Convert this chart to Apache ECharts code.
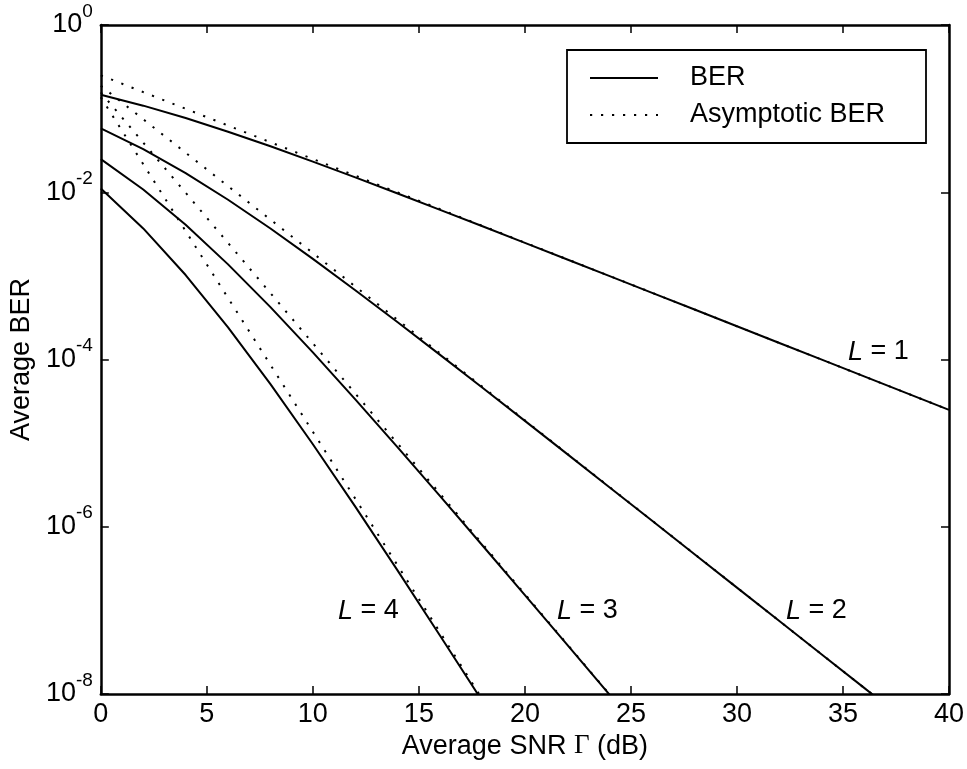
<!DOCTYPE html>
<html>
<head>
<meta charset="utf-8">
<script src="https://cdn.jsdelivr.net/npm/echarts@6/dist/echarts.min.js"></script>
<style>
html,body{margin:0;padding:0;background:#fff;}
#c{width:967px;height:769px;}
</style>
</head>
<body>
<div id="c"></div>
<script>
// SNR grid (dB)
const snrDb = [0,2,4,6,8,10,12,14,16,18,20,22,24,26,28,30,32,34,36,38,40];

// Exact average BER, L = 1..4
const berL1 = [0.1464,0.1085,0.07714,0.05300,0.03546,0.02327,0.01506,0.009665,0.006164,0.003916,0.002481,0.001570,9.923e-4,6.268e-4,3.958e-4,2.498e-4,1.577e-4,9.950e-5,6.279e-5,3.962e-5,2.500e-5];
const berL2 = [0.05806,0.03275,0.01693,0.008129,0.003683,0.001599,6.740e-4,2.784e-4,1.135e-4,4.588e-5,1.844e-5,7.386e-6,2.952e-6,1.178e-6,4.697e-7,1.872e-7,7.457e-8,2.970e-8,1.183e-8,4.708e-9,1.875e-9];
const berL3 = [0.02491,0.01078,0.004075,0.001373,4.225e-4,1.216e-4,3.342e-5,8.898e-6,2.320e-6,5.969e-7,1.522e-7,3.860e-8,9.756e-9,2.460e-9];
const berL4 = [0.01110,0.003696,0.001024,2.426e-4,5.076e-5,9.698e-6,1.738e-6,2.984e-7,4.977e-8,8.151e-9,1.320e-9];

// Asymptotic BER, L = 1..4
const asyL1 = [0.25,0.1577,0.09953,0.06280,0.03962,0.025,0.01577,0.009953,0.006280,0.003962,0.0025,0.001577,9.953e-4,6.280e-4,3.962e-4,2.5e-4,1.577e-4,9.953e-5,6.280e-5,3.962e-5,2.5e-5];
const asyL2 = [0.1875,0.07464,0.02972,0.01183,0.004710,0.001875,7.464e-4,2.972e-4,1.183e-4,4.710e-5,1.875e-5,7.464e-6,2.972e-6,1.183e-6,4.710e-7,1.875e-7,7.464e-8,2.972e-8,1.183e-8,4.710e-9,1.875e-9];
const asyL3 = [0.1563,0.03925,0.009859,0.002476,6.220e-4,1.563e-4,3.925e-5,9.859e-6,2.476e-6,6.220e-7,1.563e-7,3.925e-8,9.859e-9,2.476e-9];
const asyL4 = [0.1367,0.02167,0.003434,5.443e-4,8.626e-5,1.367e-5,2.167e-6,3.434e-7,5.443e-8,8.626e-9,1.367e-9];

// Tick values / labels
const xTicks = [0,5,10,15,20,25,30,35,40];
const yMin = 1e-8, yMax = 1;
const legendNames = ['BER','Asymptotic BER'];
const curveLabels = ['1','2','3','4'];

const FONT = 'Liberation Sans, Arial, Helvetica, sans-serif';
const pairs = arr => arr.map((v,i) => [snrDb[i], v]);

function solid(arr){
  return {name:'BER', type:'line', data:pairs(arr), symbol:'none', showSymbol:false, clip:true,
    lineStyle:{color:'#000', width:2}, itemStyle:{color:'#000'}, z:3};
}
function dotted(arr){
  return {name:'Asymptotic BER', type:'line', data:pairs(arr), symbol:'none', showSymbol:false, clip:true,
    lineStyle:{color:'#000', width:2, type:[2.2,8.8], cap:'butt'}, itemStyle:{color:'#000'}, z:2};
}

const axisLineStyle = {show:true, onZero:false, lineStyle:{color:'#000', width:2.5}};
const tickStyle = {show:true, inside:true, length:8, lineStyle:{color:'#000', width:1.5}};

const chart = echarts.init(document.getElementById('c'), null, {renderer:'canvas'});
chart.setOption({
  animation:false,
  backgroundColor:'#fff',
  grid:{left:100, right:17, top:25, bottom:75, containLabel:false},
  legend:{
    data:legendNames, orient:'vertical', left:567, top:50,
    padding:[14.5,23,14.5,22], itemWidth:68, itemHeight:14, itemGap:10,
    backgroundColor:'#fff', borderColor:'#000', borderWidth:1.8, borderRadius:0,
    selectedMode:false,
    itemStyle:{opacity:0},
    lineStyle:{color:'#000', width:2},
    textStyle:{color:'#000', fontSize:27, fontFamily:FONT, lineHeight:27, padding:[0,0,0,27], width:213}
  },
  xAxis:[
    {type:'value', min:xTicks[0], max:xTicks[xTicks.length-1], interval:5, position:'bottom',
     axisLine:axisLineStyle, axisTick:tickStyle, splitLine:{show:false},
     axisLabel:{color:'#000', fontSize:27, fontFamily:FONT, margin:7},
     name:'Average SNR {g|Γ} (dB)', nameLocation:'middle', nameGap:38,
     nameTextStyle:{color:'#000', fontSize:27, fontFamily:FONT,
       rich:{g:{fontSize:27, fontFamily:'Liberation Serif, Times New Roman, serif', color:'#000'}}}},
    {type:'value', min:xTicks[0], max:xTicks[xTicks.length-1], interval:5, position:'top',
     axisLine:axisLineStyle, axisTick:tickStyle, splitLine:{show:false}, axisLabel:{show:false}}
  ],
  yAxis:[
    {type:'log', logBase:100, min:yMin, max:yMax, position:'left',
     axisLine:axisLineStyle, axisTick:tickStyle, splitLine:{show:false}, minorTick:{show:false},
     axisLabel:{margin:8, color:'#000',
       formatter:function(v){ const e = Math.round(Math.log10(v)); return '{b|10}{s|' + e + '}'; },
       rich:{
         b:{fontSize:27, fontFamily:FONT, color:'#000', lineHeight:46},
         s:{fontSize:19, fontFamily:FONT, color:'#000', lineHeight:22, verticalAlign:'top'}
       }},
     name:'Average BER', nameLocation:'middle', nameGap:59, nameRotate:90,
     nameTextStyle:{color:'#000', fontSize:27, fontFamily:FONT}},
    {type:'log', logBase:100, min:yMin, max:yMax, position:'right',
     axisLine:axisLineStyle, axisTick:tickStyle, splitLine:{show:false}, axisLabel:{show:false}}
  ],
  series:[
    solid(berL1), solid(berL2), solid(berL3), solid(berL4),
    dotted(asyL1), dotted(asyL2), dotted(asyL3), dotted(asyL4)
  ],
  graphic:[
    {pos:[848,352], n:curveLabels[0]},
    {pos:[786,611], n:curveLabels[1]},
    {pos:[557,611], n:curveLabels[2]},
    {pos:[338,611], n:curveLabels[3]}
  ].map(o => ({
    type:'text', x:o.pos[0], y:o.pos[1], z:10,
    style:{text:'{i|L} = ' + o.n, fill:'#000', fontSize:27, fontFamily:FONT,
      align:'left', verticalAlign:'middle',
      rich:{i:{fontSize:27, fontFamily:FONT, fontStyle:'italic', fill:'#000', color:'#000'}}}
  }))
});
</script>
</body>
</html>
